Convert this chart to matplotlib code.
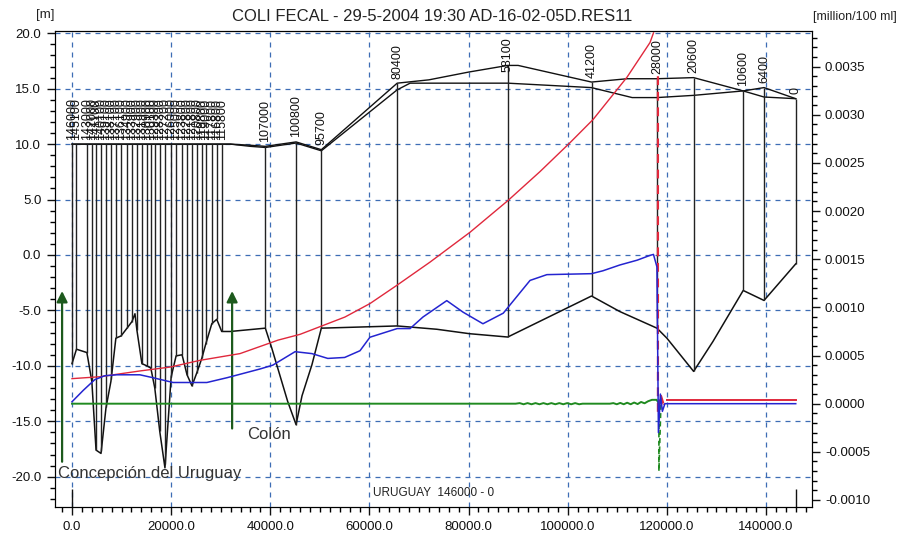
import numpy as np
import matplotlib.pyplot as plt
from matplotlib.ticker import MultipleLocator, FormatStrFormatter

plt.rcParams['font.family'] = ['Liberation Sans', 'DejaVu Sans']
plt.rcParams['axes.unicode_minus'] = False

branch_length = 146000

# cross sections, chainage along the branch (146000 -> 0)
dense_chainage = [146000, 145100, 143000, 142000, 141100, 140100, 139100, 138100,
                  137100, 136100, 134900, 133900, 132900, 131900, 130900, 130100,
                  129300, 128300, 127200, 126000, 125000, 123800, 122800, 121800,
                  120800, 119800, 119000, 117800, 116800, 115800]
named_chainage = [107000, 100800, 95700, 80400, 58100, 41200, 28000, 20600, 10600, 6400, 0]

# bed level [m] along distance
bed_x = [0, 900, 3000, 4000, 4850, 5850, 6850, 7850, 8850, 9900, 11100, 12100, 12700,
         13100, 14100, 15100, 15900, 16700, 17700, 18750, 20000, 21000, 22200, 23200,
         24200, 25200, 26200, 27000, 28200, 29200, 30200, 31900, 39000, 40300, 41500,
         43500, 45200, 46400, 48400, 50300, 65600, 73600, 80200, 87900, 104800, 110500,
         118000, 120000, 125400, 129300, 135400, 139600, 146000]
bed_y = [-9.8, -8.5, -8.8, -11.4, -17.6, -17.9, -13.8, -11.4, -7.5, -7.3, -6.6, -6.0, -5.3,
         -6.8, -9.8, -10.0, -10.2, -12.0, -15.9, -19.2, -11.0, -9.1, -9.0, -10.8,
         -11.8, -10.6, -9.3, -8.0, -6.2, -5.8, -6.9, -6.9, -6.6, -8.4, -10.2,
         -13.2, -15.3, -12.7, -9.9, -6.6, -6.4, -6.7, -7.1, -7.4, -3.7, -5.1,
         -6.6, -7.5, -10.5, -7.8, -3.2, -4.1, -0.8]

# bank levels [m]
bank_a_x = [0, 32000, 36000, 39000, 45200, 50300, 65600, 72000, 80000, 87900, 90000,
            104800, 112000, 118000, 125400, 135400, 139600, 146000]
bank_a_y = [10.0, 10.0, 9.9, 9.8, 10.2, 9.5, 15.5, 15.8, 16.5, 17.1, 17.1,
            15.6, 15.9, 15.9, 16.0, 14.8, 14.25, 14.1]
bank_b_x = [0, 32000, 36000, 39000, 45200, 50300, 65600, 68200, 87900, 104800, 113000,
            118000, 125400, 135400, 139600, 146000]
bank_b_y = [10.0, 10.0, 9.8, 9.7, 10.1, 9.4, 14.9, 15.5, 15.5, 15.1, 14.2,
            14.2, 14.4, 14.8, 15.1, 14.1]

# coli fecal [million/100 ml]
red_x = [0, 5650, 13720, 19770, 25820, 33890, 41560, 46000, 52050, 55070, 60120, 65560,
         72220, 80290, 87960, 94410, 100460, 105100, 111960, 116600, 117300]
red_y = [0.00026, 0.00028, 0.00034, 0.00038, 0.00045, 0.00052, 0.00066, 0.00072, 0.00084,
         0.00090, 0.00104, 0.00123, 0.00147, 0.00178, 0.00211, 0.00241, 0.00271, 0.00295,
         0.00339, 0.00375, 0.00385]
red_spike_x = [118200, 118200, 118700, 119300, 120000]
red_spike_y = [0.00340, -0.00010, 0.00010, 0.00000, 0.00004]
red_tail_x = [120000, 146000]
red_tail_y = [0.00004, 0.00004]

blue_x = [0, 2300, 4600, 6600, 9000, 13700, 16300, 20400, 27200, 31300, 37900, 40500,
          45000, 48400, 51600, 55000, 58100, 60100, 65600, 68200, 70800, 75600, 78900,
          82900, 87000, 92400, 95800, 104800, 107100, 110500, 114000, 116600, 117300,
          118000, 118300, 118700, 119100, 119600, 146000]
blue_y = [0.00002, 0.00014, 0.00025, 0.00029, 0.00030, 0.00030, 0.00027, 0.00022, 0.00022,
          0.00027, 0.00036, 0.00040, 0.00054, 0.00052, 0.00047, 0.00048, 0.00055, 0.00069,
          0.00078, 0.00078, 0.00090, 0.00107, 0.00095, 0.00083, 0.00094, 0.00128, 0.00134,
          0.00135, 0.00138, 0.00144, 0.00149, 0.00154, 0.00155, 0.00142, -0.00030,
          0.00010, -0.00008, 0.00000, 0.00000]

green_x = [0, 89500, 90300, 91100, 91900, 92700, 93500, 94300, 95100, 95900, 96700,
           97500, 98300, 99100, 99900, 100700, 101500, 102300, 103000, 108500, 109200,
           109900, 110600, 111300, 112000, 112700, 113400, 114100, 114800, 115500,
           116200, 117000, 117900]
green_y = [0, 0, 0.000006, -0.000006, 0.000006, -0.000006, 0.000006, -0.000006, 0.000006,
           -0.000006, 0.000006, -0.000006, 0.000006, -0.000006, 0.000006, -0.000006, 0.000006,
           -0.000006, 0, 0, 0.000006, -0.000006, 0.000008, -0.000006, 0.00001, -0.000006,
           0.000012, -0.000004, 0.000018, 0.000004, 0.000025, 0.00004, 0.00004]
green_spike_x = [117900, 118400, 118400, 118800]
green_spike_y = [0.00004, 0.00000, -0.00070, 0.00000]

# arrows for towns
arrow_x = [-2000, 32300]
arrow_bottom = [-18.9, -15.9]
arrow_top = [-3.0, -3.0]

fig = plt.figure(figsize=(8.98, 5.39), dpi=100)
ax = fig.add_axes([0.0607, 0.0588, 0.8432, 0.8846])
ax.set_xlim(-3530, 149220)
ax.set_ylim(-22.76, 20.25)

ax.xaxis.set_major_locator(MultipleLocator(20000))
ax.xaxis.set_minor_locator(MultipleLocator(2000))
ax.yaxis.set_major_locator(MultipleLocator(5))
ax.yaxis.set_minor_locator(MultipleLocator(1))
ax.xaxis.set_major_formatter(FormatStrFormatter('%.1f'))
ax.yaxis.set_major_formatter(FormatStrFormatter('%.1f'))
ax.grid(True, which='major', color='#3d6db5', ls=(0, (4, 4)), lw=0.9)
ax.tick_params(which='major', direction='out', length=6, width=1, labelsize=9.5, colors='#111')
ax.tick_params(which='minor', direction='out', length=3.5, width=1)

# bed and banks
ax.plot(bed_x, bed_y, color='#111', lw=1.1)
ax.plot(bank_a_x, bank_a_y, color='#111', lw=1.0)
ax.plot(bank_b_x, bank_b_y, color='#111', lw=1.0)

chainage = dense_chainage + named_chainage
sec_x = branch_length - np.array(chainage)
top = np.maximum(np.interp(sec_x, bank_a_x, bank_a_y), np.interp(sec_x, bank_b_x, bank_b_y))
bot = np.interp(sec_x, bed_x, bed_y)
ax.vlines(sec_x, bot, top, color='#222', lw=1.0)
for c, x, t in zip(chainage, sec_x, top):
    ax.text(x, min(t + 0.4, 16.5), str(c), rotation=90, ha='center', va='bottom',
            fontsize=9, color='#111')

# branch end marks
ax.vlines([0, branch_length], -22.76, -21.1, color='#111', lw=1)

for x, y0, y1 in zip(arrow_x, arrow_bottom, arrow_top):
    ax.annotate('', xy=(x, y1), xytext=(x, y0),
                arrowprops=dict(arrowstyle='-|>', color='#1d5a1d', lw=1.6, mutation_scale=16))

ax.text(-2900, -19.7, 'Concepción del Uruguay', fontsize=12, color='#333', va='center', ha='left')
ax.text(35300, -16.2, 'Colón', fontsize=12, color='#333', va='center', ha='left')
ax.text(0.5, 0.03, 'URUGUAY  146000 - 0', transform=ax.transAxes, ha='center', va='center',
        fontsize=8.5, color='#222')

ax2 = ax.twinx()
ax2.set_ylim(-0.001076, 0.003875)
ax2.yaxis.set_major_locator(MultipleLocator(0.0005))
ax2.yaxis.set_minor_locator(MultipleLocator(0.0001))
ax2.yaxis.set_major_formatter(FormatStrFormatter('%.4f'))
ax2.tick_params(which='major', direction='out', length=6, width=1, labelsize=9.5, colors='#111')
ax2.tick_params(which='minor', direction='out', length=3.5, width=1)

ax2.plot(green_x, green_y, color='#208a20', lw=1.4)
ax2.plot(green_spike_x, green_spike_y, color='#208a20', lw=1.2, ls=(0, (3, 2)))
ax2.plot(red_x, red_y, color='#e0283c', lw=1.0)
ax2.plot(red_spike_x, red_spike_y, color='#e0283c', lw=1.6, ls=(0, (4, 3)))
ax2.plot(red_tail_x, red_tail_y, color='#e0283c', lw=1.4)
ax2.plot(blue_x, blue_y, color='#2424d0', lw=1.1)

fig.text(0.481, 0.970, 'COLI FECAL - 29-5-2004 19:30 AD-16-02-05D.RES11',
         ha='center', va='center', fontsize=12, color='#222')
fig.text(0.050, 0.972, '[m]', ha='center', va='center', fontsize=9.5, color='#222')
fig.text(0.952, 0.968, '[million/100 ml]', ha='center', va='center', fontsize=9, color='#222')

fig.savefig('out.png', dpi=100)
